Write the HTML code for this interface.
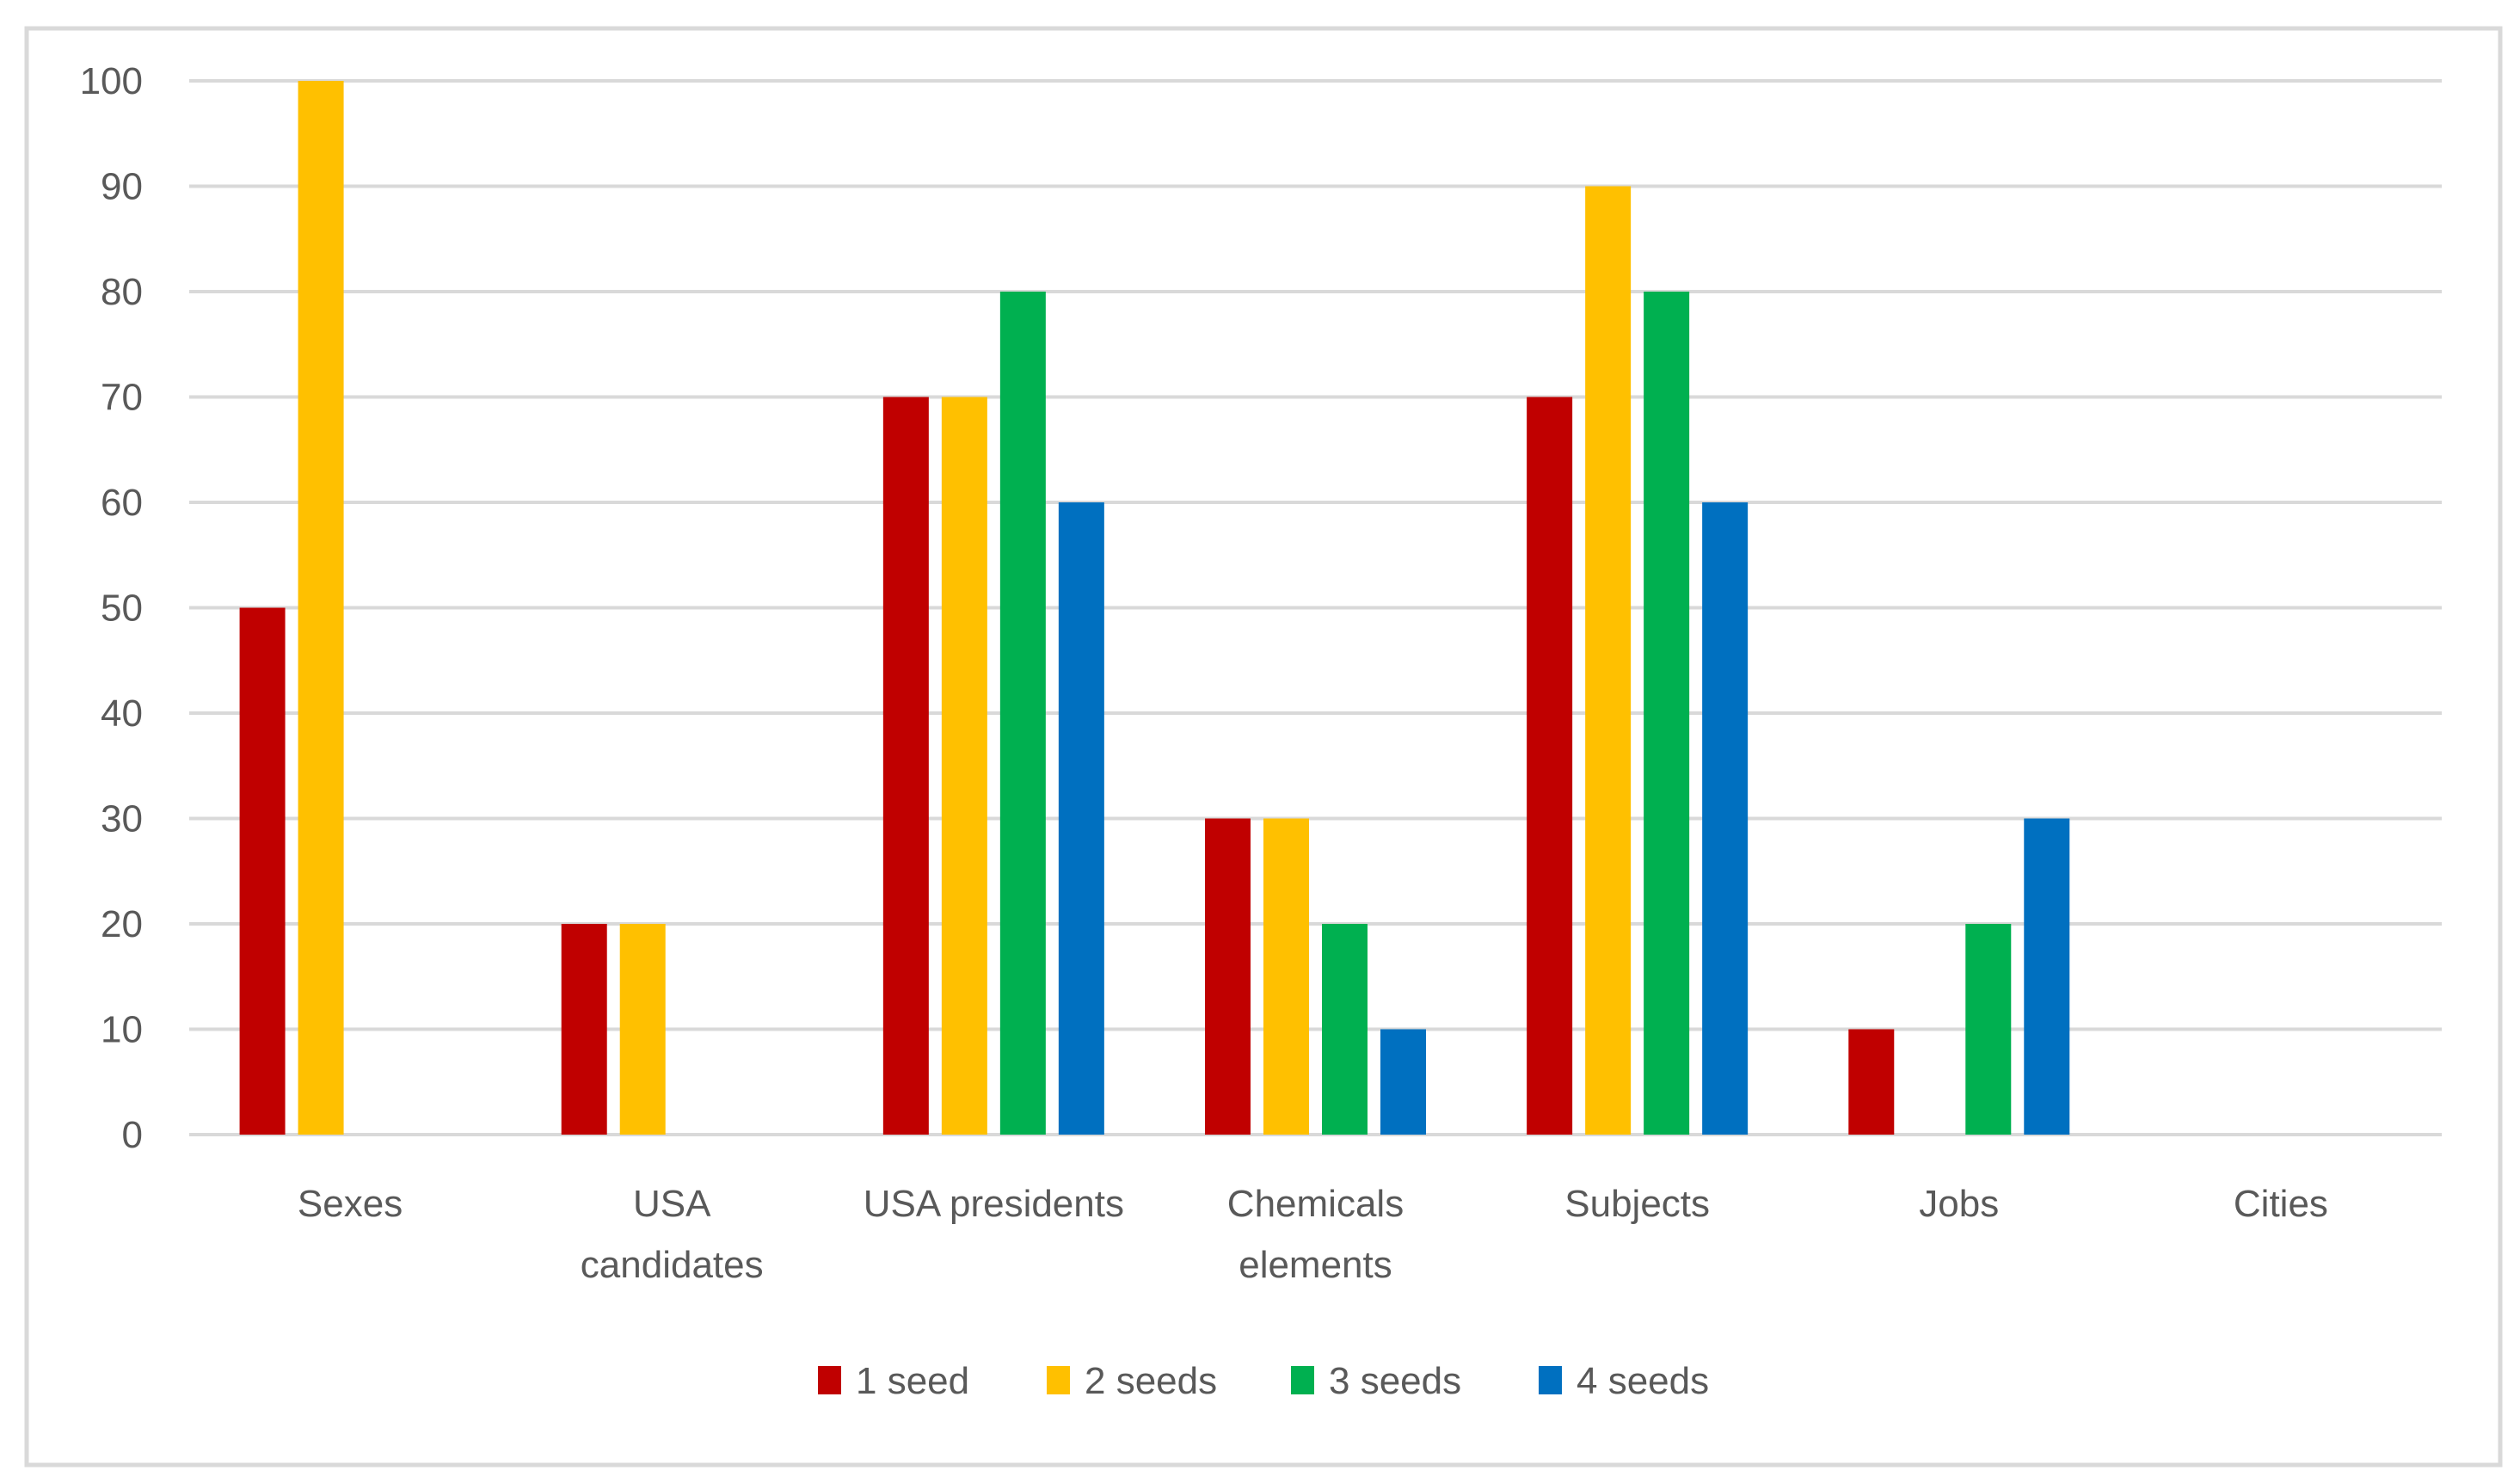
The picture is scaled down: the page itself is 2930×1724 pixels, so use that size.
<!DOCTYPE html>
<html><head><meta charset="utf-8"><style>
html,body{margin:0;padding:0;background:#fff;}
svg{display:block;font-family:"Liberation Sans","DejaVu Sans",sans-serif;}
</style></head><body>
<svg id="chart" width="2930" height="1724" viewBox="0 0 2930 1724" xmlns="http://www.w3.org/2000/svg">
<rect x="31" y="33" width="2876" height="1670" fill="#fff" stroke="#d9d9d9" stroke-width="5"/>
<g id="grid"></g>
<g id="yticks"></g>
<g id="bars"></g>
<g id="xlabels"></g>
<g id="legend"></g>
</svg>
<script>
const categories = [["Sexes"],["USA","candidates"],["USA presidents"],["Chemicals","elements"],["Subjects"],["Jobs"],["Cities"]];
const seriesNames = ["1 seed","2 seeds","3 seeds","4 seeds"];
const seed1 = [50,20,70,30,70,10,0];
const seed2 = [100,20,70,30,90,0,0];
const seed3 = [0,0,80,20,80,20,0];
const seed4 = [0,0,60,10,60,30,0];
const yTicks = [0,10,20,30,40,50,60,70,80,90,100];
const series = [seed1,seed2,seed3,seed4];
const colors = ["#C00000","#FFC000","#00B050","#0070C0"];
const NS="http://www.w3.org/2000/svg";
const plotL=220, plotR=2839, y0=1319, y100=94;
const catW=(plotR-plotL)/categories.length;
const barW=53, step=68;
function yS(v){return y0-(v/100)*(y0-y100);}
function xC(i){return plotL+catW*(i+0.5);}
function mk(tag,attrs,parent){const e=document.createElementNS(NS,tag);for(const k in attrs)e.setAttribute(k,attrs[k]);parent.appendChild(e);return e;}
const grid=document.getElementById('grid'), yt=document.getElementById('yticks');
yTicks.forEach(t=>{
  const l=mk('line',{x1:plotL,x2:plotR,y1:yS(t),y2:yS(t),stroke:'#d9d9d9','stroke-width':4},grid);
  
  
  const tx=mk('text',{x:166,y:yS(t)+15,'text-anchor':'end','font-size':44,fill:'#595959'},yt);
  tx.textContent=t;
  
  
});
const bars=document.getElementById('bars');
categories.forEach((c,i)=>{
  series.forEach((s,j)=>{
    const v=s[i]; if(!v) return;
    const x=xC(i)-2*step+(step-barW)/2+j*step;
    const r=mk('rect',{x:x,y:yS(v),width:barW,height:y0-yS(v),fill:colors[j]},bars);
    
    
  });
});
const xl=document.getElementById('xlabels');
categories.forEach((c,i)=>{
  const t=mk('text',{x:xC(i),y:1414,'text-anchor':'middle','font-size':44,fill:'#595959'},xl);
  
  
  c.forEach((line,k)=>{const ts=mk('tspan',{x:xC(i),dy:k?71:0},t);ts.textContent=line;});
});
const lg=document.getElementById('legend');
const lx=[951,1217,1501,1789];
seriesNames.forEach((n,j)=>{
  const g=mk('g',{},lg);
  
  
  mk('rect',{x:lx[j],y:1588,width:27,height:33,fill:colors[j]},g);
  const t=mk('text',{x:lx[j]+44,y:1620,'font-size':44,fill:'#595959'},g);
  t.textContent=n;
});
</script>
</body></html>
